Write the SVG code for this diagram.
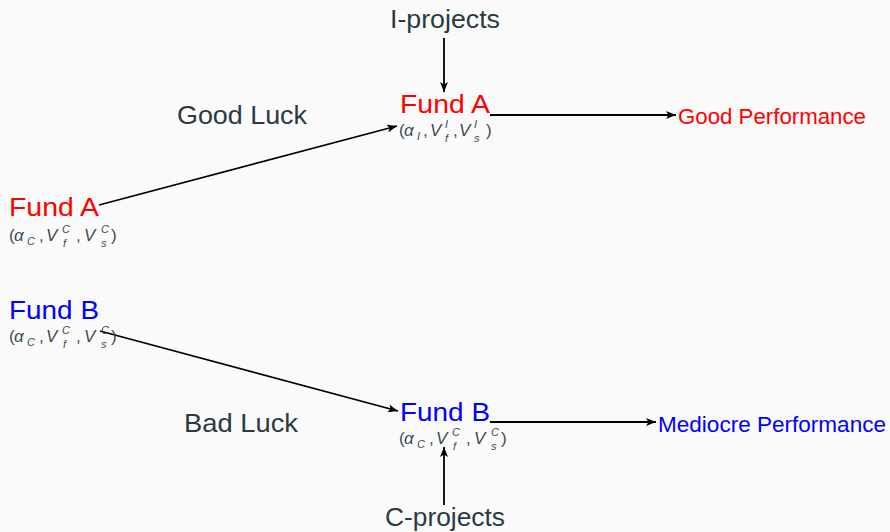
<svg xmlns="http://www.w3.org/2000/svg" width="890" height="532" viewBox="0 0 890 532">
<defs>
<marker id="ah" viewBox="0 0 10 8" refX="10" refY="4" markerWidth="10" markerHeight="8" markerUnits="userSpaceOnUse" orient="auto">
<path d="M0,0 L10,4 L0,8 L2.5,4 Z" fill="#000"/>
</marker>
<style>
.t{font-family:"Liberation Sans",Arial,sans-serif;fill:#2b3a42}
.big{font-size:26px}
.perf{font-size:22px}
.sub{font-family:"Liberation Sans",Arial,sans-serif;font-size:17px;fill:#3d4b52}
.i{font-style:italic}
.s{font-size:11px;font-style:italic}
.red{fill:#ff0000}
.blue{fill:#0000ff}
.c{stroke:#000;stroke-width:1.8;fill:none;marker-end:url(#ah)}
</style>
</defs>
<rect width="890" height="532" fill="#fafafa"/>
<g id="connectors">
<line class="c" x1="444" y1="38" x2="444" y2="92"/>
<line class="c" x1="490" y1="115" x2="676" y2="115"/>
<line class="c" x1="99" y1="205" x2="397" y2="126"/>
<line class="c" x1="100" y1="331" x2="398" y2="411"/>
<line class="c" x1="490" y1="422" x2="656" y2="422"/>
<line class="c" x1="444" y1="505" x2="444" y2="447"/>
</g>
<g id="iprojects"><text class="t big" x="390" y="28" textLength="110" lengthAdjust="spacingAndGlyphs">I-projects</text></g>
<g id="cprojects"><text class="t big" x="385" y="526" textLength="120" lengthAdjust="spacingAndGlyphs">C-projects</text></g>
<g id="goodluck"><text class="t big" x="177" y="124" textLength="130" lengthAdjust="spacingAndGlyphs">Good Luck</text></g>
<g id="badluck"><text class="t big" x="184" y="432" textLength="114" lengthAdjust="spacingAndGlyphs">Bad Luck</text></g>
<g id="goodperf"><text class="t perf red" x="678" y="124" textLength="188" lengthAdjust="spacingAndGlyphs">Good Performance</text></g>
<g id="medperf"><text class="t perf blue" x="658" y="432" textLength="228" lengthAdjust="spacingAndGlyphs">Mediocre Performance</text></g>
<g id="fundA-left">
<text class="t big red" x="9" y="216" textLength="90" lengthAdjust="spacingAndGlyphs">Fund A</text>
<g transform="translate(9,241)">
<text class="sub"><tspan x="0" y="0">(</tspan><tspan class="i" x="5" y="0">α</tspan><tspan class="s" x="18" y="4">C</tspan><tspan x="30" y="0">,</tspan><tspan class="i" x="37" y="0">V</tspan><tspan class="s" x="53" y="-8">C</tspan><tspan class="s" x="54" y="6">f</tspan><tspan x="67" y="0">,</tspan><tspan class="i" x="75" y="0">V</tspan><tspan class="s" x="92" y="-8">C</tspan><tspan class="s" x="92" y="6">s</tspan><tspan x="102" y="0">)</tspan></text>
</g>
</g>
<g id="fundB-left">
<text class="t big blue" x="9" y="319" textLength="90" lengthAdjust="spacingAndGlyphs">Fund B</text>
<g transform="translate(9,342)">
<text class="sub"><tspan x="0" y="0">(</tspan><tspan class="i" x="5" y="0">α</tspan><tspan class="s" x="18" y="4">C</tspan><tspan x="30" y="0">,</tspan><tspan class="i" x="37" y="0">V</tspan><tspan class="s" x="53" y="-8">C</tspan><tspan class="s" x="54" y="6">f</tspan><tspan x="67" y="0">,</tspan><tspan class="i" x="75" y="0">V</tspan><tspan class="s" x="92" y="-8">C</tspan><tspan class="s" x="92" y="6">s</tspan><tspan x="102" y="0">)</tspan></text>
</g>
</g>
<g id="fundA-top">
<text class="t big red" x="400" y="113" textLength="90" lengthAdjust="spacingAndGlyphs">Fund A</text>
<g transform="translate(399,136)">
<text class="sub"><tspan x="0" y="0">(</tspan><tspan class="i" x="5" y="0">α</tspan><tspan class="s" x="18" y="4">I</tspan><tspan x="24" y="0">,</tspan><tspan class="i" x="31" y="0">V</tspan><tspan class="s" x="46" y="-8">I</tspan><tspan class="s" x="46" y="6">f</tspan><tspan x="54" y="0">,</tspan><tspan class="i" x="60" y="0">V</tspan><tspan class="s" x="75" y="-8">I</tspan><tspan class="s" x="75" y="6">s</tspan><tspan x="87" y="0">)</tspan></text>
</g>
</g>
<g id="fundB-bottom">
<text class="t big blue" x="400" y="421" textLength="90" lengthAdjust="spacingAndGlyphs">Fund B</text>
<g transform="translate(399,444)">
<text class="sub"><tspan x="0" y="0">(</tspan><tspan class="i" x="5" y="0">α</tspan><tspan class="s" x="18" y="4">C</tspan><tspan x="30" y="0">,</tspan><tspan class="i" x="37" y="0">V</tspan><tspan class="s" x="53" y="-8">C</tspan><tspan class="s" x="54" y="6">f</tspan><tspan x="67" y="0">,</tspan><tspan class="i" x="75" y="0">V</tspan><tspan class="s" x="92" y="-8">C</tspan><tspan class="s" x="92" y="6">s</tspan><tspan x="102" y="0">)</tspan></text>
</g>
</g>
</svg>
